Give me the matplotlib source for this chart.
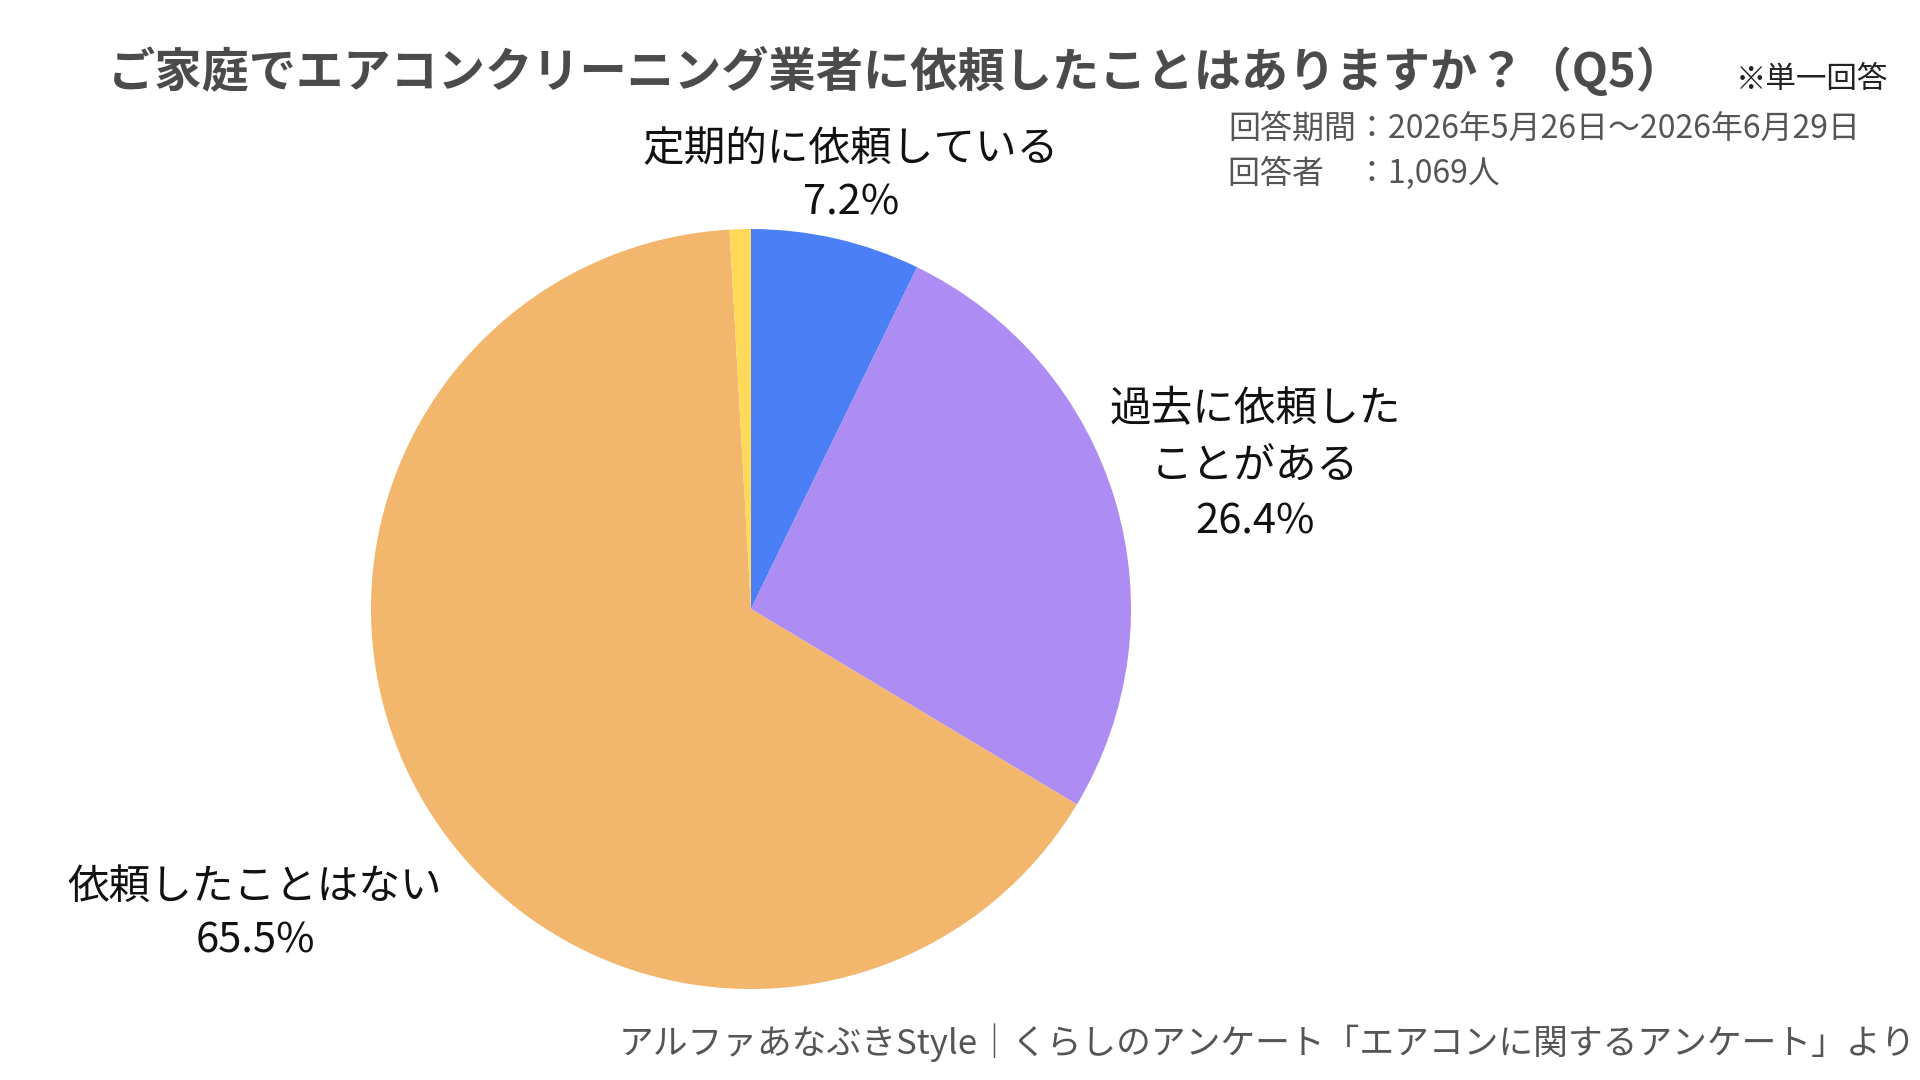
import matplotlib
matplotlib.use("Agg")
import matplotlib.pyplot as plt

plt.rcParams['font.family'] = ['Noto Sans CJK JP', 'DejaVu Sans']

# data (clockwise from 12 o'clock)
categories = ["定期的に依頼している", "過去に依頼した\nことがある", "依頼したことはない", "その他"]
shares = [7.2, 26.4, 65.5, 0.9]
colors = ["#4A7FF6", "#AD8CF4", "#F2B76C", "#FFD95A"]

title = "ご家庭でエアコンクリーニング業者に依頼したことはありますか？（Q5）"
period = "回答期間：2026年5月26日～2026年6月29日"
respondents = "回答者　：1,069人"
source = "アルファあなぶきStyle｜くらしのアンケート「エアコンに関するアンケート」より"

W, H = 1920, 1080
fig = plt.figure(figsize=(19.2, 10.8), dpi=100)
fig.patch.set_facecolor("white")

# pie axes: centre (751, 609) px, radius 380 px
cx, cy, r = 751, 609, 380
ax = fig.add_axes([(cx - r) / W, (H - cy - r) / H, 2 * r / W, 2 * r / H])
ax.pie(shares, colors=colors, startangle=90, counterclock=False,
       radius=1.0, wedgeprops=dict(linewidth=0))
ax.set_xlim(-1, 1)
ax.set_ylim(-1, 1)
ax.set_aspect("equal")
ax.axis("off")

def px(x, y):
    return x / W, 1 - y / H

# slice labels (figure pixel positions)
label_pos = [(851, 176), (1255, 466), (255, 914)]
spacing = [1.38, 1.47, 1.4]
for (x, y), cat, val, ls in zip(label_pos, categories[:3], shares[:3], spacing):
    fig.text(*px(x, y), f"{cat}\n{val}%", ha="center", va="center",
             fontsize=30, color="#111111", linespacing=ls)

fig.text(*px(896, 72), title, ha="center", va="center", fontsize=34,
         fontweight="bold", color="#4A4C4C")
fig.text(*px(1812, 80), "※単一回答", ha="center", va="center",
         fontsize=22, color="#222222")
fig.text(*px(1228, 129), period, ha="left", va="center", fontsize=23,
         color="#555555")
fig.text(*px(1228, 173), respondents, ha="left", va="center", fontsize=23,
         color="#555555")
fig.text(*px(1916, 1043), source, ha="right", va="center", fontsize=25,
         color="#555555")

fig.savefig("out.png", dpi=100, facecolor="white")
